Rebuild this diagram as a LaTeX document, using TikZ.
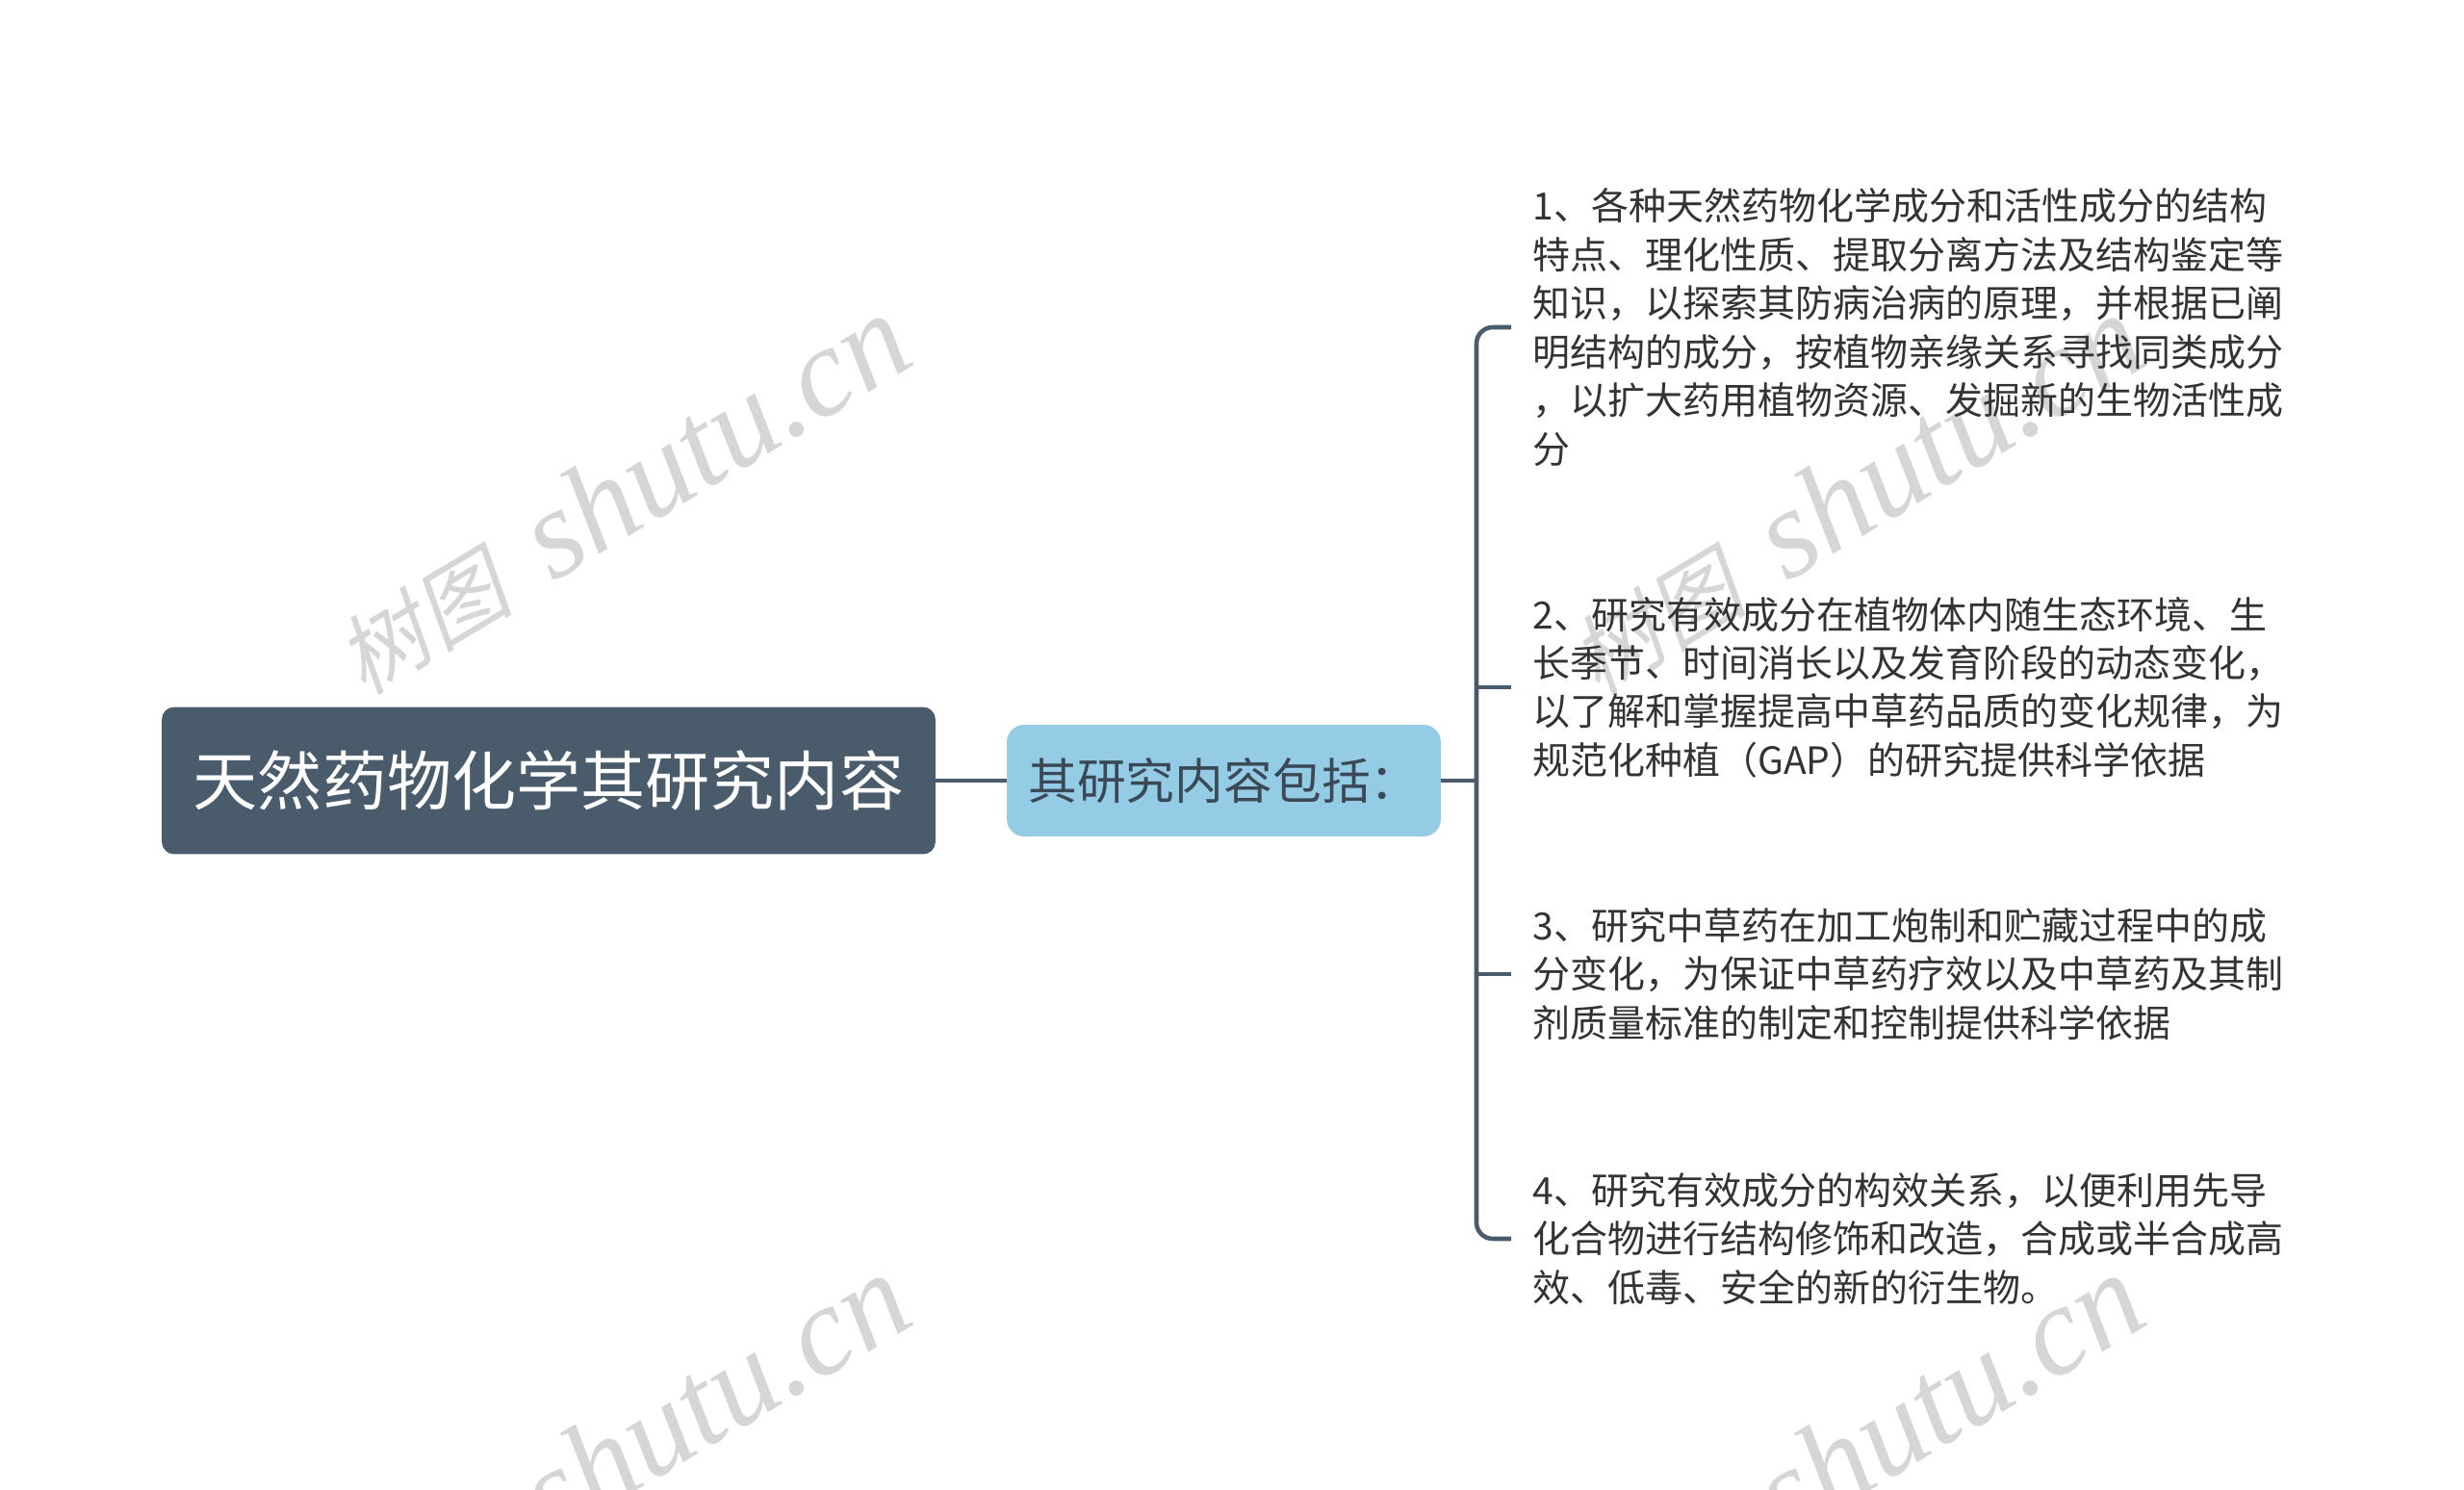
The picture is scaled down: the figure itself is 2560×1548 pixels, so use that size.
\documentclass[tikz,border=0pt]{standalone}
\usepackage{fontspec}
\setmainfont{Noto Sans CJK SC}
\newfontfamily\wmlatin{Liberation Serif}
\newfontfamily\wmcjk[FakeSlant=0.2]{Noto Sans CJK SC}
\usetikzlibrary{positioning}
\definecolor{rootcol}{HTML}{4A5B6B}
\definecolor{subcol}{HTML}{95CCE5}
\definecolor{textcol}{HTML}{333333}
\definecolor{wmcol}{HTML}{D6D6D6}
\newcommand{\wmtext}{{\wmcjk\fontsize{52}{60}\selectfont 树图}\hspace{0.35em}{\wmlatin\itshape shutu.cn}}
\begin{document}
\begin{tikzpicture}[x=0.02cm, y=-0.02cm,
    root/.style = {fill=rootcol, text=white, rounded corners=0.26cm, minimum width=16.08cm, minimum height=3.06cm, inner sep=0pt, font=\fontsize{38.2}{46}\selectfont},
    sub/.style = {fill=subcol, text=rootcol!80!black, rounded corners=0.36cm, minimum width=9.02cm, minimum height=2.32cm, inner sep=0pt, font=\fontsize{28.9}{35}\selectfont},
    leaf/.style = {anchor=west, align=left, text=textcol, inner xsep=0.44cm, inner ysep=0pt, font=\fontsize{22.2}{28.7}\selectfont},
    link/.style = {draw=rootcol, line width=2.6pt},
    wm/.style = {text=wmcol, rotate=31, font=\fontsize{75}{80}\selectfont}]
    \useasboundingbox (0,0) rectangle (2560,1548);
    \clip (0,0) rectangle (2560,1548);

    % watermarks
    \node[wm] (wm1) at (645,514) {\wmtext};
    \node[wm] (wm2) at (1927,514) {\wmtext};
    \node[wm] (wm3) at (645,1510) {\wmtext};
    \node[wm] (wm4) at (1927,1510) {\wmtext};

    \node[root] (root) at (570,811) {天然药物化学其研究内容};
    \node[sub] (sub) at (1271.5,811) {其研究内容包括：};
    \coordinate (br) at (1534,811);

    \node[leaf] (p1) at (1570,340) {1、各种天然药物化学成分和活性成分的结构\\特点、理化性质、提取分离方法及结构鉴定等\\知识，以探索其防病治病的原理，并根据已阐\\明结构的成分，按植物亲缘关系寻找同类成分\\，以扩大药用植物资源、发掘新的生物活性成\\分};
    \node[leaf] (p2) at (1570,714) {2、研究有效成分在植物体内随生态环境、生\\长季节、时间消长以及发育阶段的动态变化，\\以了解和掌握提高中草药品质的变化规律，为\\规范化种植（GAP）的研究提供科学依据};
    \node[leaf] (p3) at (1570,1012) {3、研究中草药在加工炮制和贮藏过程中的成\\分变化，为保证中草药疗效以及中草药及其制\\剂质量标准的制定和控制提供科学依据};
    \node[leaf] (p4) at (1570,1287) {4、研究有效成分的构效关系，以便利用先导\\化合物进行结构修饰和改造，合成或半合成高\\效、低毒、安全的新的衍生物。};

    \draw[link] (root) -- (sub);
    \draw[link] (sub.east) -- (br);
    \draw[link, rounded corners=0.34cm] (p1.west) -- (p1.west -| br) -- (p4.west -| br) -- (p4.west);
    \draw[link] (p2.west -| br) -- (p2.west);
    \draw[link] (p3.west -| br) -- (p3.west);
\end{tikzpicture}
\end{document}
